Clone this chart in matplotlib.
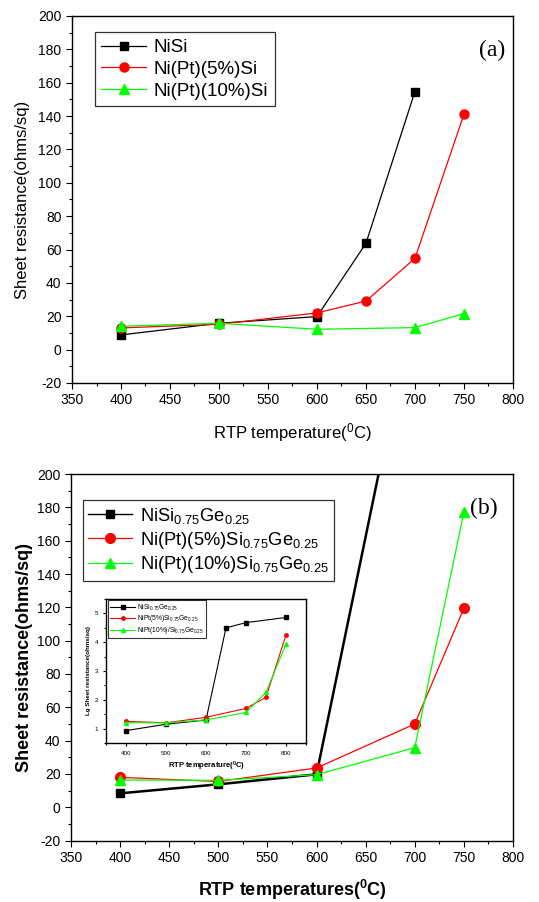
import numpy as np
import matplotlib
matplotlib.use("Agg")
import matplotlib.pyplot as plt
from matplotlib.ticker import MultipleLocator

plt.rcParams['font.family'] = ['Liberation Sans', 'DejaVu Sans']
plt.rcParams['mathtext.fontset'] = 'custom'
plt.rcParams['mathtext.rm'] = 'Liberation Sans'
plt.rcParams['mathtext.bf'] = 'Liberation Sans:bold'
plt.rcParams['axes.unicode_minus'] = False

# panel (a) - NiSi
a_x_nisi = [400, 500, 600, 650, 700]
a_y_nisi = [8.8, 15.8, 19.8, 63.7, 154.7]
a_x_pt5 = [400, 500, 600, 650, 700, 750]
a_y_pt5 = [13.0, 15.2, 22.0, 29.1, 54.7, 141.0]
a_x_pt10 = [400, 500, 600, 700, 750]
a_y_pt10 = [14.0, 15.8, 12.2, 13.2, 21.6]

# panel (b) - NiSiGe (black goes off the top)
b_x_nisi = [400, 500, 600, 700]
b_y_nisi = [8.4, 13.8, 19.8, 305.0]
b_x_pt5 = [400, 500, 600, 700, 750]
b_y_pt5 = [18.0, 15.5, 23.6, 50.0, 119.4]
b_x_pt10 = [400, 500, 600, 700, 750]
b_y_pt10 = [16.4, 16.2, 19.6, 35.8, 177.0]

# inset - log sheet resistance
i_x_nisi = [400, 500, 600, 650, 700, 800]
i_y_nisi = [0.93, 1.15, 1.3, 4.5, 4.68, 4.86]
i_x_pt5 = [400, 500, 600, 700, 750, 800]
i_y_pt5 = [1.25, 1.2, 1.39, 1.7, 2.09, 4.25]
i_x_pt10 = [400, 500, 600, 700, 750, 800]
i_y_pt10 = [1.2, 1.2, 1.3, 1.56, 2.26, 3.93]

sub = r'$\mathregular{_{0.75}}$'
sub2 = r'$\mathregular{_{0.25}}$'
labels_a = ['NiSi', 'Ni(Pt)(5%)Si', 'Ni(Pt)(10%)Si']
labels_b = ['NiSi' + sub + 'Ge' + sub2,
            'Ni(Pt)(5%)Si' + sub + 'Ge' + sub2,
            'Ni(Pt)(10%)Si' + sub + 'Ge' + sub2]
labels_i = ['NiSi' + sub + 'Ge' + sub2,
            'NiPt(5%)Si' + sub + 'Ge' + sub2,
            'NiPt(10%)/Si' + sub + 'Ge' + sub2]

GREEN = '#00ff00'
RED = '#ff0000'

fig = plt.figure(figsize=(5.39, 9.02), dpi=100)


def style_axes(ax, fs=10, xmaj=50, xmin=25, ymaj=20, ymin=10, maj_len=4, min_len=2.5):
    ax.xaxis.set_major_locator(MultipleLocator(xmaj))
    ax.xaxis.set_minor_locator(MultipleLocator(xmin))
    ax.yaxis.set_major_locator(MultipleLocator(ymaj))
    ax.yaxis.set_minor_locator(MultipleLocator(ymin))
    ax.tick_params(which='both', direction='out', top=False, right=False, labelsize=fs)
    ax.tick_params(which='major', length=maj_len, width=0.8)
    ax.tick_params(which='minor', length=min_len, width=0.8)
    for s in ax.spines.values():
        s.set_linewidth(1.0)


# ---- panel (a)
ax1 = fig.add_axes([0.1336, 0.5754, 0.818, 0.4069])
ax1.plot(a_x_nisi, a_y_nisi, '-s', color='black', lw=0.9, ms=5.5, label=labels_a[0])
ax1.plot(a_x_pt5, a_y_pt5, '-o', color=RED, lw=0.9, ms=6.5, label=labels_a[1])
ax1.plot(a_x_pt10, a_y_pt10, '-^', color=GREEN, lw=0.9, ms=6.5, label=labels_a[2])
ax1.set_xlim(350, 800)
ax1.set_ylim(-20, 200)
style_axes(ax1)
ax1.set_xlabel('RTP temperature($\\mathregular{^0}$C)', fontsize=12, labelpad=10)
ax1.set_ylabel('Sheet resistance(ohms/sq)', fontsize=12, labelpad=6)
leg = ax1.legend(loc='upper left', bbox_to_anchor=(0.052, 0.955), fontsize=13.5,
                 handlelength=2.4, frameon=True, fancybox=False, edgecolor='black',
                 borderpad=0.35, labelspacing=0.25, handletextpad=0.4, borderaxespad=0)
leg.get_frame().set_linewidth(0.9)
ax1.text(0.952, 0.907, '(a)', transform=ax1.transAxes, ha='center', va='center',
         fontsize=17, family='Liberation Serif')

# ---- panel (b)
ax2 = fig.add_axes([0.1317, 0.0680, 0.820, 0.4065])
ax2.plot(b_x_nisi, b_y_nisi, '-s', color='black', lw=1.8, ms=6, label=labels_b[0])
ax2.plot(b_x_pt5, b_y_pt5, '-o', color=RED, lw=0.9, ms=7, label=labels_b[1])
ax2.plot(b_x_pt10, b_y_pt10, '-^', color=GREEN, lw=0.9, ms=7.5, label=labels_b[2])
ax2.set_xlim(350, 800)
ax2.set_ylim(-20, 200)
style_axes(ax2)
ax2.set_xlabel('RTP temperatures($\\mathregular{^0}$C)', fontsize=13, fontweight='bold', labelpad=9)
ax2.set_ylabel('Sheet resistance(ohms/sq)', fontsize=13, fontweight='bold', labelpad=3)
leg2 = ax2.legend(loc='upper left', bbox_to_anchor=(0.027, 0.928), fontsize=13.2,
                  handlelength=2.4, frameon=True, fancybox=False, edgecolor='black',
                  borderpad=0.3, labelspacing=0.2, handletextpad=0.4, borderaxespad=0)
leg2.get_frame().set_linewidth(0.9)
leg2.get_lines()[0].set_linewidth(1.0)
ax2.text(0.934, 0.905, '(b)', transform=ax2.transAxes, ha='center', va='center',
         fontsize=17, family='Liberation Serif')

# ---- inset
ax3 = fig.add_axes([0.1967, 0.1763, 0.371, 0.1596])
ax3.plot(i_x_nisi, i_y_nisi, '-s', color='black', lw=0.8, ms=2.5, label=labels_i[0])
ax3.plot(i_x_pt5, i_y_pt5, '-o', color=RED, lw=0.8, ms=2.5, label=labels_i[1])
ax3.plot(i_x_pt10, i_y_pt10, '-^', color=GREEN, lw=0.8, ms=2.8, label=labels_i[2])
ax3.set_xlim(350, 850)
ax3.set_ylim(0.5, 5.5)
style_axes(ax3, fs=4.5, xmaj=100, xmin=50, ymaj=1, ymin=0.5, maj_len=2, min_len=1.2)
ax3.set_xlabel('RTP temperature($\\mathregular{^0}$C)', fontsize=5.5, fontweight='bold', labelpad=3)
ax3.set_ylabel('Lg Sheet resistance(ohms/sq)', fontsize=4.5, fontweight='bold', labelpad=3)
leg3 = ax3.legend(loc='upper left', bbox_to_anchor=(0.01, 0.99), fontsize=4.8,
                  handlelength=3.8, frameon=True, fancybox=False, edgecolor='black',
                  borderpad=0.3, labelspacing=0.1, handletextpad=0.3, borderaxespad=0)
leg3.get_frame().set_linewidth(0.8)

fig.savefig('out.png', dpi=100)
